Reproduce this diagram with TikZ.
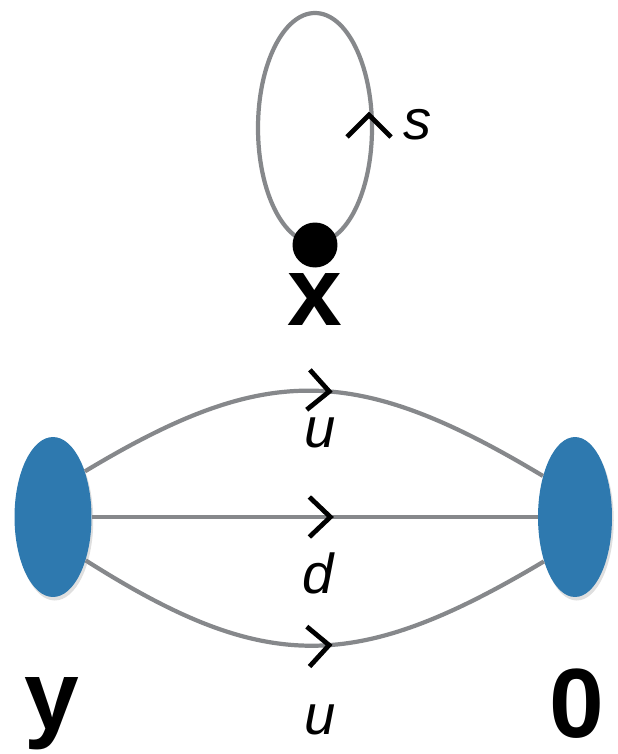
\documentclass[tikz,border=0pt]{standalone}
\usepackage{fontspec}
\setmainfont{Liberation Sans}
\usetikzlibrary{shapes.geometric, decorations.markings, shadows, backgrounds}
\definecolor{blobblue}{HTML}{2E79AF}
\definecolor{edgegray}{HTML}{86888B}

\begin{document}
\begin{tikzpicture}[x=0.02cm, y=-0.02cm,
  edge/.style={draw=edgegray, line width=2.4pt},
  chev/.style={draw=black, line width=2.7pt, line join=miter},
  midchev/.style={postaction={decorate}, decoration={markings,
    mark=at position #1 with {\draw[chev] (-21,-20) -- (0,0) -- (-21,20);}}},
  blob/.style={ellipse, fill=blobblue, minimum height=3.2cm, inner sep=0pt,
    drop shadow={opacity=0.25, shadow xshift=1pt, shadow yshift=-2pt}},
  vlabel/.style={font=\fontsize{56}{60}\selectfont\bfseries, inner sep=0pt},
  elabel/.style={font=\fontsize{32}{36}\selectfont\itshape, inner sep=0pt},
]
\useasboundingbox (0,0) rectangle (618,754);

% =============================================
% Vertex x with its loop
% =============================================
\node[circle, fill=black, minimum size=0.9cm, inner sep=0pt] (xdot) at (315,245) {};
\node[vlabel] (xlbl) at (315,300) {x};
\begin{pgfonlayer}{background}
\draw[edge] (xdot.center) ++(0,-117) ellipse [x radius=57, y radius=115];
\end{pgfonlayer}
\draw[chev] (347,137) -- (369,115) -- (391,137);
\node[elabel] (slbl) at (418,125) {s};

% =============================================
% Blobs y and 0
% =============================================
\node[blob, minimum width=1.54cm] (yblob) at (53,517) {};
\node[blob, minimum width=1.48cm] (oblob) at (575,517) {};
\node[vlabel] (ylbl) at (52,714) {y};
\node[vlabel] (olbl) at (577,704) {0};

% =============================================
% Edges between the blobs
% =============================================
\draw[edge, midchev=0.53] (yblob.55) .. controls (265,363) and (355,363) .. (oblob.128);
\draw[edge, midchev=0.535] (yblob.east) -- (oblob.west);
\draw[edge, midchev=0.53] (yblob.-53) .. controls (265,674) and (355,674) .. (oblob.-125);

\node[elabel] (u1lbl) at (320,433) {u};
\node[elabel] (dlbl) at (318,573) {d};
\node[elabel] (u2lbl) at (320,720) {u};

\end{tikzpicture}
\end{document}
